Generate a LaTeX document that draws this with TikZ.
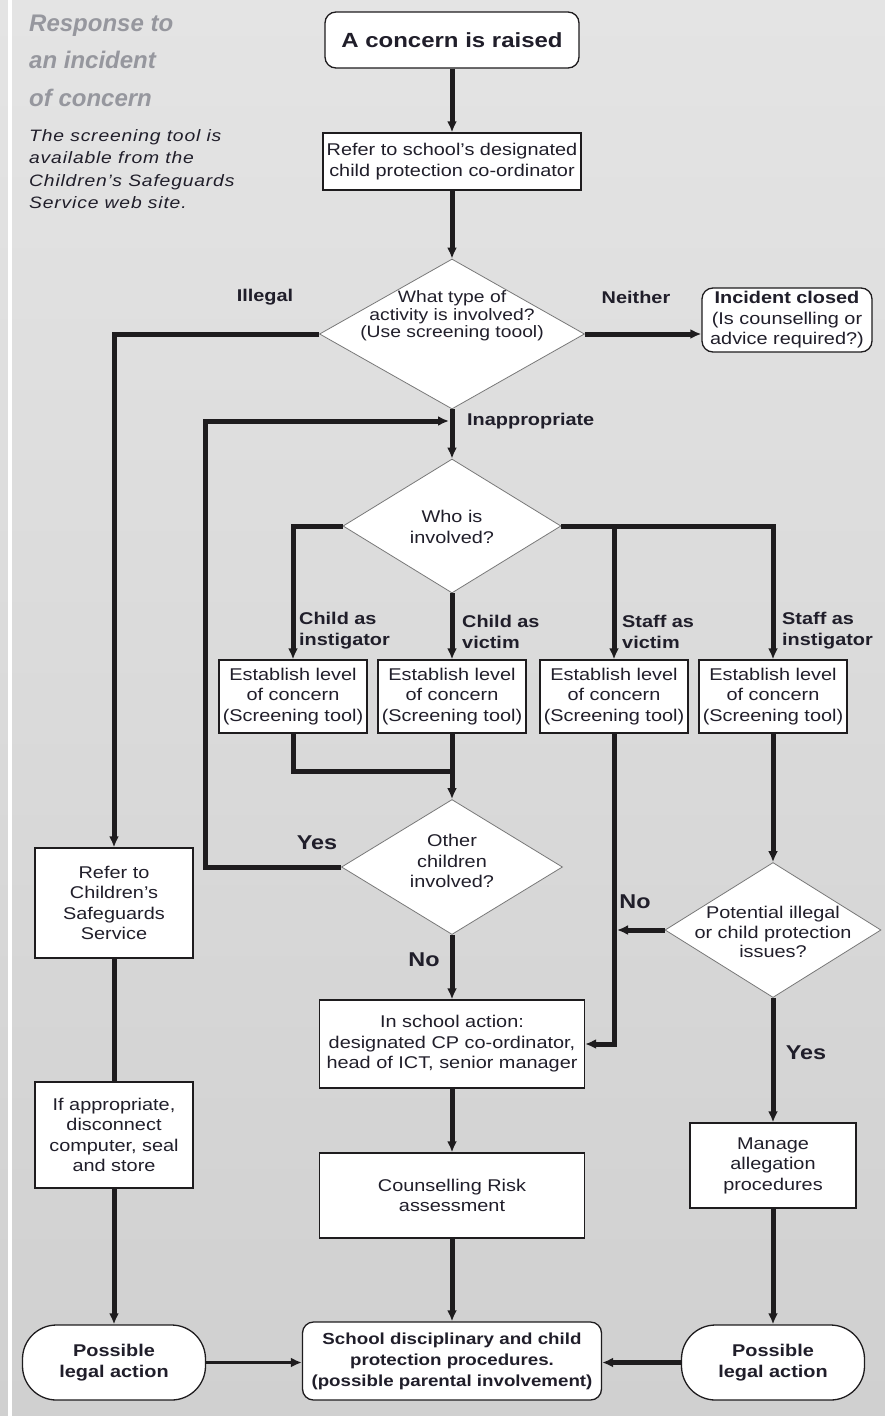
\documentclass[tikz,border=0pt]{standalone}
\usepackage{fontspec}
\setmainfont{Liberation Sans}[FakeStretch=1.17]
\newfontfamily\titlefont{Liberation Sans}
\usetikzlibrary{positioning,arrows.meta,shapes.geometric}
\definecolor{colorbg}     {RGB}{208,208,208}
\definecolor{colorbgtop}  {RGB}{228,228,228}
\definecolor{colortext}   {RGB}{32,30,42}
\definecolor{colortitle}  {RGB}{150,151,158}
\definecolor{colorline}   {RGB}{30,28,30}
\definecolor{colordiamond}{RGB}{120,120,120}

\begin{document}
\begin{tikzpicture}[
    x=1pt, y=-1pt,
    font={\fontsize{17}{20.5}\selectfont}, text=colortext,
    box/.style={rectangle,draw=colorline,line width=1.3pt,fill=white,align=center,inner sep=0pt},
    roundbox/.style={box,rounded corners=11pt},
    level/.style={box,minimum width=148pt,minimum height=73pt},
    legal/.style={box,rounded corners=34pt,minimum width=183pt,minimum height=75pt,font={\fontsize{17}{21}\selectfont\bfseries}},
    decision/.style={diamond,draw=colordiamond,line width=0.8pt,fill=white,inner sep=0pt},
    question/.style={align=center,inner sep=0pt},
    flow/.style={draw=colorline,line width=5pt},
    arrow/.style={flow,-{Latex[length=11pt,width=10pt]}},
    relation/.style={font={\fontsize{17}{21}\selectfont\bfseries},align=left,inner sep=0pt},
    answer/.style={font={\fontsize{20}{24}\selectfont\bfseries},inner sep=0pt},
]
    \useasboundingbox (0,0) rectangle (885,1416);
    \shade[top color=colorbgtop,bottom color=colorbg] (0,0) rectangle (885,1416);
    \fill[white] (8,0) rectangle (12,1416);

    % Side notes
    \node[anchor=north west,align=left,inner sep=0pt,text=colortitle,
          font={\titlefont\fontsize{24}{37.5}\selectfont\bfseries\itshape}] (title) at (29,14.5)
          {Response to\\an incident\\of concern};
    \node[anchor=north west,align=left,inner sep=0pt,
          font={\fontsize{16.5}{22.5}\selectfont\itshape\addfontfeatures{LetterSpace=5}}] (note) at (29,129)
          {The screening tool is\\available from the\\Children's Safeguards\\Service web site.};

    % Steps
    \node[roundbox,minimum width=254pt,minimum height=56pt,font={\fontsize{20.5}{24}\selectfont\bfseries}] (concern) at (452,40) {A concern is raised};
    \node[box,minimum width=258pt,minimum height=57pt] (refer) at (452,161.5) {Refer to school's designated\\child protection co-ordinator};

    \node[decision,minimum width=265pt,minimum height=150pt] (type) at (452,334) {};
    \node[question,font={\fontsize{16.5}{17.5}\selectfont}] (typetext) at (452,316) {What type of\\activity is involved?\\(Use screening toool)};
    \node[roundbox,minimum width=170pt,minimum height=64pt] (closed) at (787,320) {\textbf{Incident closed}\\(Is counselling or\\advice required?)};

    \node[decision,minimum width=218pt,minimum height=134pt] (who) at (452,526) {};
    \node[question] (whotext) at (452,527) {Who is\\involved?};

    \node[level] (level1) at (293,696.5) {Establish level\\of concern\\(Screening tool)};
    \node[level] (level2) at (452,696.5) {Establish level\\of concern\\(Screening tool)};
    \node[level] (level3) at (614,696.5) {Establish level\\of concern\\(Screening tool)};
    \node[level] (level4) at (773,696.5) {Establish level\\of concern\\(Screening tool)};

    \node[decision,minimum width=221pt,minimum height=135pt] (other) at (452,867) {};
    \node[question] (othertext) at (452,861) {Other\\children\\involved?};
    \node[decision,minimum width=216pt,minimum height=135pt] (potential) at (773,930) {};
    \node[question,font={\fontsize{17}{19.5}\selectfont}] (potentialtext) at (773,932) {Potential illegal\\or child protection\\issues?};

    \node[box,minimum width=158pt,minimum height=110pt] (safeguards) at (114,903) {Refer to\\Children's\\Safeguards\\Service};
    \node[box,minimum width=158pt,minimum height=106pt] (disconnect) at (114,1135) {If appropriate,\\disconnect\\computer, seal\\and store};

    \node[box,minimum width=265pt,minimum height=88pt] (inschool) at (452,1044) {In school action:\\designated CP co-ordinator,\\head of ICT, senior manager};
    \node[box,minimum width=265pt,minimum height=85pt] (counsel) at (452,1195.5) {Counselling Risk\\assessment};
    \node[box,minimum width=166pt,minimum height=85pt] (manage) at (773,1165.5) {Manage\\allegation\\procedures};

    \node[roundbox,minimum width=299pt,minimum height=78pt,font={\fontsize{16}{21}\selectfont\bfseries}] (discipline) at (452,1361)
        {School disciplinary and child\\protection procedures.\\(possible parental involvement)};
    \node[legal] (legalleft)  at (114,1362.5) {Possible\\legal action};
    \node[legal] (legalright) at (773,1362.5) {Possible\\legal action};

    \coordinate (loopcorner) at (205,421);
    \coordinate (loopend)    at (449,421);
    \coordinate (join)       at (452,771);
    \coordinate (nojoin)     at (617,930);

    % Connections
    \draw[arrow] (concern) -- (refer);
    \draw[arrow] (refer) -- (type);
    \draw[arrow] (type.west) -| (safeguards.north);
    \draw[arrow] (type.east) -- (type.east -| closed.west);
    \draw[arrow] (type.south) -- (who.north);
    \draw[arrow] (other.west) -| (loopcorner) -- (loopend);

    \draw[arrow] (who.west) -| (level1.north);
    \draw[arrow] (who.south) -- (level2.north);
    \draw[arrow] (who.east) -| (level3.north);
    \draw[arrow] (who.east) -| (level4.north);

    \draw[flow]  (level1.south) |- (join);
    \draw[arrow] (level2.south) -- (other.north);
    \draw[arrow] (level3.south) |- (inschool.east);
    \draw[arrow] (level4.south) -- (potential.north);
    \draw[arrow] (potential.west) -- (nojoin);
    \draw[arrow] (potential.south) -- (manage.north);

    \draw[arrow] (other.south) -- (inschool.north);
    \draw[arrow] (inschool.south) -- (counsel.north);
    \draw[arrow] (counsel.south) -- (discipline.north);

    \draw[flow]  (safeguards.south) -- (disconnect.north);
    \draw[arrow] (disconnect.south) -- (legalleft.north);
    \draw[arrow] (manage.south) -- (legalright.north);
    \draw[arrow,line width=3pt] (legalleft.east) -- (legalleft.east -| discipline.west);
    \draw[arrow] (legalright.west) -- (legalright.west -| discipline.east);

    % Labels
    \node[relation] (illegal) at (265,297) {Illegal};
    \node[relation] (neither) at (636,297) {Neither};
    \node[relation,anchor=west] (inappropriate) at (467,421) {Inappropriate};
    \node[relation,anchor=west] (childinst) at (299,631) {Child as\\instigator};
    \node[relation,anchor=west] (childvict) at (462,632) {Child as\\victim};
    \node[relation,anchor=west] (staffvict) at (622,632) {Staff as\\victim};
    \node[relation,anchor=west] (staffinst) at (782,631) {Staff as\\instigator};
    \node[answer] (otheryes) at (317,843) {Yes};
    \node[answer] (otherno)  at (424,960) {No};
    \node[answer] (potentialno)  at (635,902) {No};
    \node[answer] (potentialyes) at (806,1053) {Yes};

\end{tikzpicture}
\end{document}
